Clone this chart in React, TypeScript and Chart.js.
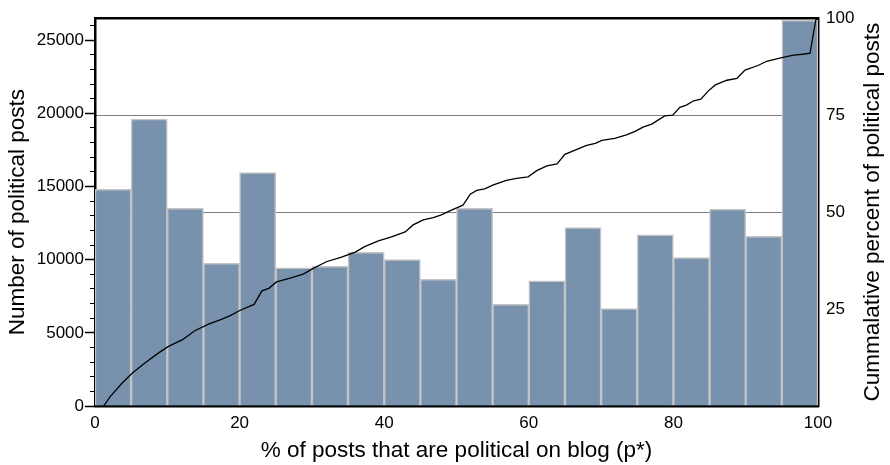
import React, { useEffect, useRef } from "react";
import { Chart, registerables } from "chart.js";

Chart.register(...registerables);

// Histogram bins (centre of each 5-point bin of p*)
const binCenters = [2.5, 7.5, 12.5, 17.5, 22.5, 27.5, 32.5, 37.5, 42.5, 47.5, 52.5, 57.5, 62.5, 67.5, 72.5, 77.5, 82.5, 87.5, 92.5, 97.5];
// Number of political posts per bin
const postCounts = [14800, 19600, 13500, 9750, 15950, 9450, 9550, 10500, 10000, 8650, 13500, 6950, 8550, 12200, 6650, 11700, 10150, 13450, 11600, 26350];

// Cumulative percent of political posts
const cumX = [1.2, 2.1, 3.7, 5.1, 6.9, 8.8, 10.1, 12.1, 13.8, 15.7, 17.3, 18.7, 20.1, 22.0, 23.1, 24.1, 25.1, 27.0, 28.8, 30.2, 32.0, 34.1, 36.0, 37.3, 39.2, 41.0, 42.9, 44.0, 45.4, 46.8, 47.9, 49.3, 50.9, 51.9, 52.8, 53.9, 55.1, 56.9, 58.3, 59.9, 61.1, 62.5, 63.9, 65.0, 66.4, 68.0, 69.2, 70.1, 71.9, 73.5, 74.7, 75.8, 77.0, 78.8, 79.9, 80.9, 81.8, 82.8, 83.8, 84.8, 85.8, 87.4, 88.8, 89.9, 91.7, 92.9, 94.7, 96.6, 97.9, 98.9, 99.7, 100];
const cumPct = [0, 2.4, 5.8, 8.4, 11.1, 13.7, 15.3, 17.1, 19.4, 21.1, 22.2, 23.3, 24.7, 26.2, 29.7, 30.4, 32.0, 33.0, 34.0, 35.5, 37.2, 38.4, 39.7, 41.1, 42.6, 43.6, 44.9, 46.7, 48.0, 48.6, 49.3, 50.5, 51.8, 54.6, 55.6, 56.0, 57.0, 58.2, 58.7, 59.1, 60.7, 61.9, 62.4, 64.9, 66.0, 67.2, 67.7, 68.5, 69.0, 69.9, 70.8, 71.9, 72.7, 74.8, 75.0, 77.0, 77.6, 78.7, 79.1, 81.2, 82.8, 84.0, 84.5, 86.6, 87.8, 88.9, 89.7, 90.5, 90.7, 91.0, 99.6, 100];

// Axis ticks
const leftMajorTicks = [0, 5000, 10000, 15000, 20000, 25000];
const leftMinorTicks = [0, 1000, 2000, 3000, 4000, 5000, 6000, 7000, 8000, 9000, 10000, 11000, 12000, 13000, 14000, 15000, 16000, 17000, 18000, 19000, 20000, 21000, 22000, 23000, 24000, 25000, 26000];
const rightTicks = [0, 25, 50, 75, 100];
const bottomTicks = [0, 20, 40, 60, 80, 100];

const xTitle = "% of posts that are political on blog (p*)";
const yTitle = "Number of political posts";
const y2Title = "Cummalative percent of political posts";

const FONT = "'Liberation Sans', Arial, Helvetica, sans-serif";

const rightTitlePlugin = {
  id: "rightTitle",
  afterDraw(chart: any) {
    const s = chart.scales.y2;
    const ctx = chart.ctx;
    ctx.save();
    ctx.translate(s.right - 17, (s.top + s.bottom) / 2);
    ctx.rotate(-Math.PI / 2);
    ctx.font = `22.5px ${FONT}`;
    ctx.fillStyle = "#000";
    ctx.textAlign = "center";
    ctx.textBaseline = "middle";
    ctx.fillText(y2Title, 0, 0);
    ctx.restore();
  },
};

const setTicks = (values: number[]) => (s: any) => {
  s.ticks = values.map((value) => ({ value }));
};

export default function App() {
  const ref = useRef<HTMLCanvasElement | null>(null);

  useEffect(() => {
    if (!ref.current) return;
    const chart = new Chart(ref.current, {
      type: "bar",
      plugins: [rightTitlePlugin],
      data: {
        datasets: [
          {
            type: "line",
            data: cumX.map((x, i) => ({ x, y: cumPct[i] })),
            yAxisID: "y2",
            xAxisID: "x",
            borderColor: "#000000",
            borderWidth: 1.3,
            pointRadius: 0,
            tension: 0,
            fill: false,
            order: 0,
          } as any,
          {
            type: "bar",
            data: binCenters.map((x, i) => ({ x, y: postCounts[i] })),
            yAxisID: "y",
            xAxisID: "x",
            backgroundColor: "#7892AD",
            borderColor: "#c4c4c4",
            borderWidth: 1.5,
            barPercentage: 1,
            categoryPercentage: 1,
            grouped: false,
            order: 1,
          } as any,
        ],
      },
      options: {
        responsive: false,
        animation: false,
        layout: { padding: 0 },
        plugins: { legend: { display: false }, tooltip: { enabled: false } },
        scales: {
          x: {
            type: "linear",
            position: "bottom",
            min: 0,
            max: 100,
            offset: false,
            grid: { display: false, drawTicks: false },
            border: { display: true, color: "#000", width: 2.5 },
            afterBuildTicks: setTicks(bottomTicks),
            ticks: { padding: 7, color: "#000", font: { family: FONT, size: 17 } },
            title: { display: true, text: xTitle, color: "#000", font: { family: FONT, size: 22.5 }, padding: { top: 0, bottom: 1 } },
            afterFit: (s: any) => { s.height = 59; },
          },
          xTop: {
            type: "linear",
            position: "top",
            display: true,
            min: 0,
            max: 100,
            grid: { display: false, drawTicks: false },
            border: { display: true, color: "#000", width: 2.5 },
            ticks: { display: false },
            afterFit: (s: any) => { s.height = 14.5; },
          },
          y: {
            type: "linear",
            position: "left",
            weight: 1,
            min: 0,
            max: 26500,
            grid: { drawOnChartArea: false, drawTicks: true, tickLength: 10, tickColor: "#000", tickWidth: 1.5 },
            border: { display: true, color: "#000", width: 2.5 },
            afterBuildTicks: setTicks(leftMajorTicks),
            ticks: {
              autoSkip: false,
              padding: 1,
              color: "#000",
              font: { family: FONT, size: 17 },
              callback: (v: any) => String(v),
            },
            title: { display: true, text: yTitle, color: "#000", font: { family: FONT, size: 22.5 }, padding: { top: 4, bottom: 0 } },
            afterFit: (s: any) => { s.width = 95; },
          },
          yMinor: {
            type: "linear",
            position: "left",
            weight: 0,
            display: true,
            min: 0,
            max: 26500,
            grid: { drawOnChartArea: false, drawTicks: true, tickLength: 5, tickColor: "#000", tickWidth: 1 },
            border: { display: false },
            afterBuildTicks: setTicks(leftMinorTicks),
            ticks: { display: false },
            afterFit: (s: any) => { s.width = 0; },
          },
          y2: {
            type: "linear",
            position: "right",
            min: 0,
            max: 100,
            grid: { drawOnChartArea: true, drawTicks: false, color: "#808080", lineWidth: 1 },
            border: { display: true, color: "#000", width: 2.5 },
            afterBuildTicks: setTicks(rightTicks),
            ticks: {
              padding: 8,
              color: "#000",
              font: { family: FONT, size: 17 },
              callback: (v: any) => (v === 0 ? "" : String(v)),
            },
            afterFit: (s: any) => { s.width = 72; },
          },
        },
      } as any,
    });
    return () => chart.destroy();
  }, []);

  return (
    <div style={{ position: "absolute", left: 0, top: 0, width: 890, height: 465, background: "#fff" }}>
      <canvas ref={ref} width={890} height={465} style={{ display: "block", width: 890, height: 465 }} />
    </div>
  );
}
